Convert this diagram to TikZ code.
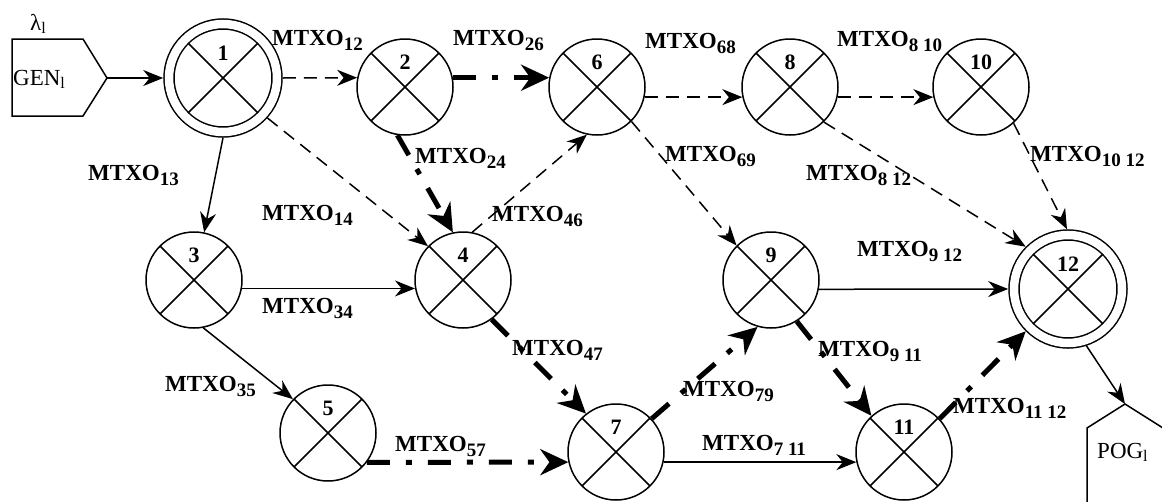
\documentclass[tikz,border=0pt]{standalone}
\usepackage{fontspec}
\setmainfont{Liberation Serif}
\usepackage{tikz}
\usetikzlibrary{arrows.meta}

\newcommand{\mtxo}[1]{MTXO\raisebox{-5pt}{\fontsize{19}{19}\selectfont #1}}

\tikzset{
  uzel/.style={circle, draw, line width=1.5pt, minimum size=96pt, inner sep=0pt,
    path picture={\draw[line width=1.5pt]
      (path picture bounding box.south west) -- (path picture bounding box.north east)
      (path picture bounding box.north west) -- (path picture bounding box.south east);}},
  uzeldv/.style={uzel, minimum size=108pt, double, double distance=8.5pt, outer sep=5.8pt},
  nomer/.style={font=\bfseries\fontsize{22}{22}\selectfont, yshift=25pt},
  podp/.style={anchor=base west, inner sep=0pt, font=\bfseries\fontsize{23}{23}\selectfont},
  tekst/.style={anchor=base west, inner sep=0pt, font=\fontsize{23}{23}\selectfont},
  sploshn/.style={line width=1.5pt, -{Stealth[length=20pt, width=16pt]}},
  shtrih/.style={line width=1.5pt, dash pattern=on 13pt off 8pt, -{Stealth[length=20pt, width=16pt]}},
  zhirn/.style={line width=5pt, dash pattern=on 23pt off 16pt on 6pt off 16pt, -{Stealth[length=28pt, width=26pt]}}
}

\begin{document}
\begin{tikzpicture}[x=1pt, y=-1pt]
\useasboundingbox (0,0) rectangle (1162,501);

% generator and receiver
\draw[line width=1.5pt] (12,39) -- (83,39) -- (107,78) coordinate (gen) -- (83,116) -- (12,116) -- cycle;
\node[tekst] (gentxt) at (13,85) {GEN\textsubscript{l}};
\node[tekst] (lam) at (30,30) {λ\textsubscript{l}};
\draw[line width=1.5pt] (1087,505) -- (1087,428) -- (1125,404) coordinate (pog) -- (1163,428) -- (1163,505);
\node[tekst] (pogtxt) at (1097,458) {POG\textsubscript{l}};

% nodes
\node[uzeldv, label={[nomer]center:1}] (n1) at (223,78) {};
\node[uzeldv, label={[nomer]center:12}] (n12) at (1068,289) {};
\foreach \n/\x/\y in {2/405/87, 3/194/280, 4/463/280, 5/328/433, 6/597/87,
                      7/616/452, 8/790/87, 9/771/280, 10/981/87, 11/904/452}
  \node[uzel, label={[nomer]center:\n}] (n\n) at (\x,\y) {};

% links
\draw[sploshn] (gen) -- (n1.west);
\draw[shtrih] (n1.east) -- (n2.169);
\draw[zhirn] (n2.11) -- (n6.169);
\draw[shtrih] (n6.-12) -- (n8.192);
\draw[shtrih] (n8.-12) -- (n10.192);
\draw[sploshn] (n1.south) -- (n3.78);
\draw[shtrih] (n1.-42) -- (n4.136);
\draw[zhirn] (n2.-99) -- (n4.102);
\draw[shtrih] (n4.79) -- (n6.258);
\draw[sploshn] (n3.-10) -- (n4.190);
\draw[sploshn] (n3.-79) -- (n5.136);
\draw[zhirn] (n4.-54) -- (n7.128);
\draw[zhirn] (n5.-37) -- (n7.192);
\draw[shtrih] (n6.-45) -- (n9.135);
\draw[zhirn] (n7.43) -- (n9.254);
\draw[zhirn] (n9.-58) -- (n11.132);
\draw[sploshn] (n9.-11) -- (n12.180);
\draw[sploshn] (n7.-12) -- (n11.192);
\draw[zhirn] (n11.43) -- (n12.225);
\draw[shtrih] (n8.-46) -- (n12.135);
\draw[shtrih] (n10.-48) -- (n12.91);
\draw[sploshn] (n12.-72) -- (pog);

% link labels
\foreach \s/\x/\y [count=\i] in {12/272/45, 26/453/45, 68/645/48, 8 10/837/46,
    10 12/1030/161, 8 12/806/180, 13/88/180, 14/262/220, 24/415/163,
    46/492/221, 69/665/161, 34/262/313, 9 12/857/256, 35/165/391,
    47/512/355, 79/683/396, 9 11/818/356, 57/395/451, 7 11/702/450, 11 12/953/413}
  \node[podp] (m\i) at (\x,\y) {\mtxo{\s}};
\end{tikzpicture}
\end{document}
